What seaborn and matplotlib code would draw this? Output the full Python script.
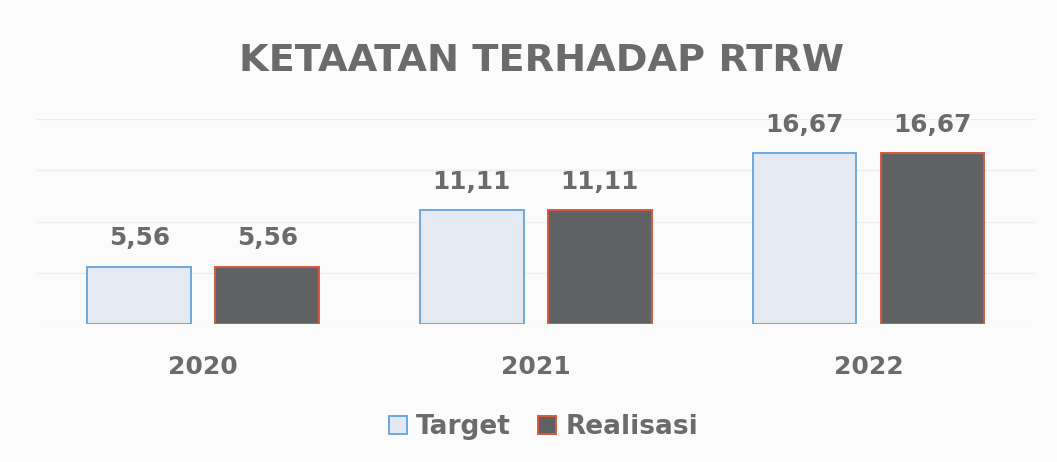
import pandas as pd
import matplotlib.pyplot as plt
import seaborn as sns
from matplotlib.lines import Line2D

# --- Dados ---
tahun = ['2020', '2021', '2022']
target = [5.56, 11.11, 16.67]
realisasi = [5.56, 11.11, 16.67]
seri = ['Target', 'Realisasi']

# --- Estilo ---
sns.set_style("white")
plt.rcParams['font.family'] = ['DejaVu Sans']
teks = '#6b6b6b'
warna_isi = {'Target': '#e3e8f3', 'Realisasi': '#5e6163'}
warna_tepi = {'Target': '#6fa8dc', 'Realisasi': '#d9573b'}

df = pd.DataFrame({
    'Tahun': tahun * 2,
    'Nilai': target + realisasi,
    'Seri': ['Target'] * len(tahun) + ['Realisasi'] * len(tahun),
})

fig = plt.figure(figsize=(10.57, 4.62), dpi=100, facecolor='#fbfbfb')
ax = fig.add_axes([0.035, 0.299, 0.944, 0.443])
ax.set_facecolor('#fbfbfb')

sns.barplot(data=df, x='Tahun', y='Nilai', hue='Seri', hue_order=seri,
            palette=warna_isi, width=0.77, gap=0.19, ax=ax, legend=False)

# garis tepi & label nilai
for cont, s in zip(ax.containers, seri):
    for bar in cont:
        bar.set_edgecolor(warna_tepi[s])
        bar.set_linewidth(1.4)
    vals = [b.get_height() for b in cont]
    ax.bar_label(cont, labels=[f'{v:.2f}'.replace('.', ',') for v in vals],
                 padding=12, fontsize=17.8, fontweight='bold', color=teks)

ax.set_ylim(0, 20)
ax.set_xlim(-0.5, 2.5)
ax.set_yticks([0, 5, 10, 15, 20])
ax.yaxis.grid(True, color='#ececec', linewidth=1)
ax.set_axisbelow(True)
ax.tick_params(axis='y', left=False, labelleft=False)
ax.tick_params(axis='x', length=0, pad=22.5, labelsize=18, labelcolor=teks)
for lbl in ax.get_xticklabels():
    lbl.set_fontweight('bold')
ax.set_xlabel('')
ax.set_ylabel('')
sns.despine(ax=ax, left=True, bottom=True)

fig.text(0.512, 0.868, 'KETAATAN TERHADAP RTRW', ha='center', va='center',
         fontsize=27.5, fontweight='bold', color=teks)

handles = [Line2D([], [], marker='s', linestyle='', markersize=13,
                  markerfacecolor=warna_isi[s], markeredgecolor=warna_tepi[s],
                  markeredgewidth=1.4) for s in seri]
fig.legend(handles, seri, loc='center', bbox_to_anchor=(0.514, 0.076), ncol=2,
           frameon=False, handlelength=0.7, handletextpad=0.35, columnspacing=1.0,
           prop={'size': 19, 'weight': 'bold'}, labelcolor=teks)

plt.savefig('out.png', dpi=100, facecolor=fig.get_facecolor())
plt.close()
